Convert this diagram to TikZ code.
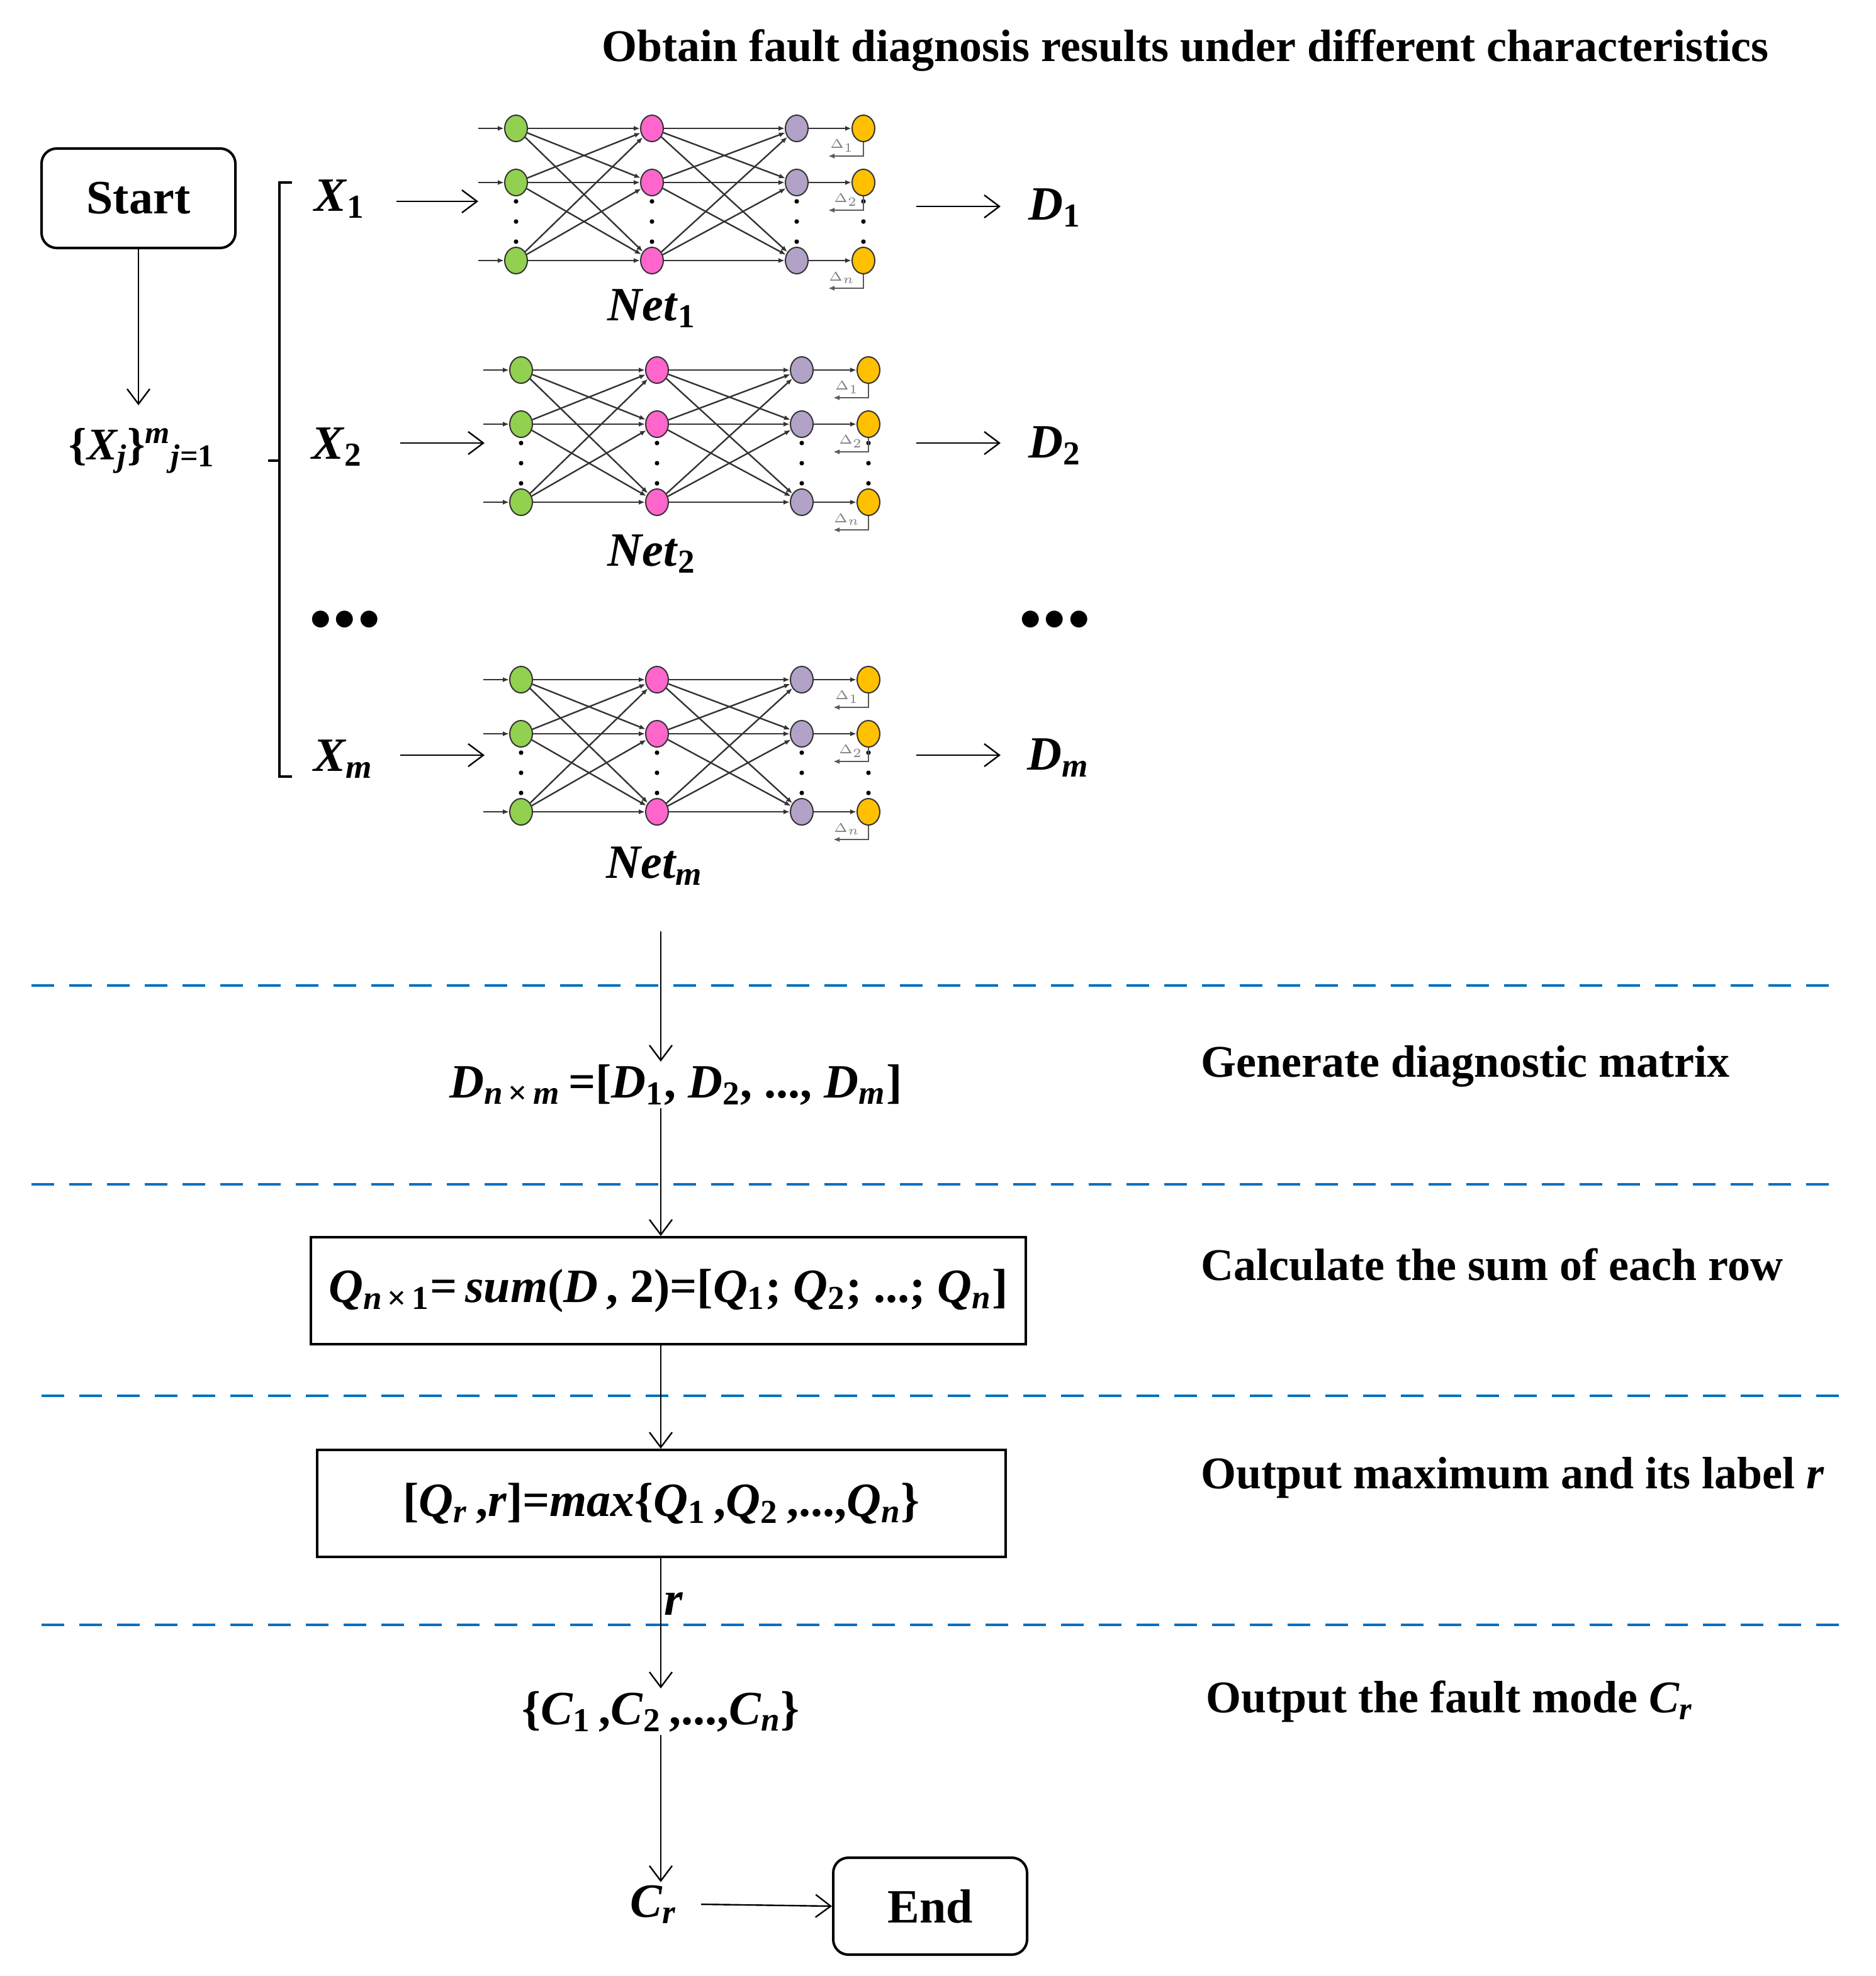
\documentclass[tikz,border=0pt]{standalone}
\usepackage{fontspec}
\setmainfont{Liberation Serif}
\usetikzlibrary{shapes.geometric,arrows.meta,calc}
\definecolor{ngreen}{RGB}{146,208,80}
\definecolor{npink}{RGB}{255,102,204}
\definecolor{npurp}{RGB}{179,162,199}
\definecolor{nyell}{RGB}{255,192,0}
\definecolor{dblue}{RGB}{0,112,192}
\newcommand\bi[1]{\textbf{\textit{#1}}}
\newcommand\lbl{\fontsize{18}{21}\selectfont\bfseries}
\newcommand\drawnet[3]{%
  \foreach \c/\dx/\col in {1/0/ngreen,2/108/npink,3/223/npurp,4/276/nyell}{
    \foreach \r/\dy in {1/0,2/43,3/105}{
      \node[neuron,fill=\col] (#1-\c-\r) at (#2+\dx,#3+\dy) {};
    }
    \foreach \k in {0,1,2} \fill (#2+\dx,#3+58+\k*16) circle (0.9pt);
  }
  \foreach \r in {1,2,3}{
    \coordinate (#1-in-\r) at ($(#1-1-\r)+(-30,0)$);
    \draw[syn] (#1-in-\r) -- (#1-1-\r);
    \draw[syn] (#1-3-\r) -- (#1-4-\r);
    \coordinate (#1-fb-\r) at ($(#1-4-\r)+(0,22)$);
    \coordinate (#1-fe-\r) at ($(#1-4-\r)+(-28,22)$);
    \draw[syn,gray!70!black] (#1-4-\r.south) -- (#1-fb-\r) -- (#1-fe-\r);
    \foreach \s in {1,2,3}{
      \draw[syn] (#1-1-\r) -- (#1-2-\s);
      \draw[syn] (#1-2-\r) -- (#1-3-\s);
    }
  }
  \node[delta] at ($(#1-4-1)+(-17,14)$) {$\Delta_1$};
  \node[delta] at ($(#1-4-2)+(-14,14)$) {$\Delta_2$};
  \node[delta] at ($(#1-4-3)+(-17,14)$) {$\Delta_n$};
}
\begin{document}
\begin{tikzpicture}[x=0.5pt,y=-0.5pt,
  neuron/.style={ellipse,draw=black!80,line width=0.5pt,minimum width=9pt,minimum height=10.5pt,inner sep=0pt},
  syn/.style={draw=black!80,line width=0.6pt,-{Latex[length=2.5pt,width=2pt]},shorten >=0pt},
  delta/.style={font=\fontsize{4}{4}\selectfont,text=gray,inner sep=0pt},
  arr/.style={-{Straight Barb[length=6pt,width=9pt]},line width=0.6pt},
  box/.style={draw,line width=1pt,inner sep=0pt},
  sepline/.style={dblue,line width=1pt,dash pattern=on 9pt off 6pt},
  txt/.style={font=\lbl,inner sep=1pt},
  big/.style={font=\lbl\fontsize{19}{22}\selectfont,inner sep=1pt}]
\useasboundingbox (0,0) rectangle (1490,1570);
\node[txt,anchor=west] (title) at (476,40) {Obtain fault diagnosis results under different characteristics};
\node[box,rounded corners=6pt,minimum width=77pt,minimum height=39.5pt,big] (start) at (110,157.5) {Start};
\node[txt] (xset) at (113,358) {\{\bi{X\textsubscript{j}}\}\textsuperscript{\bi{m}}\textsubscript{\bi{j}=1}};
\coordinate (xsetn) at (110,322);
\draw[arr] (start) -- (xsetn);
\draw[line width=0.8pt] (232,145) -- (222,145) -- (222,617) -- (232,617);
\draw[line width=0.8pt] (222,366) -- (213,366);
\drawnet{a}{410}{102}
\drawnet{b}{414}{294}
\drawnet{c}{414}{540}
\node[big] (x1) at (270,158) {\bi{X}\textsubscript{1}};
\node[big] (x2) at (268,355) {\bi{X}\textsubscript{2}};
\node[big] (xm) at (273,603) {\bi{X\textsubscript{m}}};
\node[big] (d1) at (838,165) {\bi{D}\textsubscript{1}};
\node[big] (d2) at (838,354) {\bi{D}\textsubscript{2}};
\node[big] (dm) at (841,602) {\bi{D\textsubscript{m}}};
\node[big] (n1) at (518,245) {\bi{Net}\textsubscript{1}};
\node[big] (n2) at (518,440) {\bi{Net}\textsubscript{2}};
\node[big] (nm) at (520,688) {\bi{Net\textsubscript{m}}};
\node[txt] (dl) at (274,493) {$\bullet\!\bullet\!\bullet$};
\node[txt] (dr) at (838,493) {$\bullet\!\bullet\!\bullet$};
\coordinate (a1) at (315,160); \coordinate (a1e) at (380,160);
\draw[arr] (a1) -- (a1e);
\coordinate (a2) at (318,352); \coordinate (a2e) at (385,352);
\draw[arr] (a2) -- (a2e);
\coordinate (a3) at (318,600); \coordinate (a3e) at (385,600);
\draw[arr] (a3) -- (a3e);
\coordinate (b1) at (728,164); \coordinate (b1e) at (795,164); \draw[arr] (b1) -- (b1e);
\coordinate (b2) at (728,352); \coordinate (b2e) at (795,352); \draw[arr] (b2) -- (b2e);
\coordinate (b3) at (728,600); \coordinate (b3e) at (795,600); \draw[arr] (b3) -- (b3e);
\draw[sepline] (25,783) -- (1455,783);
\draw[sepline] (25,941) -- (1455,941);
\draw[sepline] (33,1109) -- (1463,1109);
\draw[sepline] (33,1291) -- (1463,1291);
\node[big] (dmat) at (537,862) {\bi{D\textsubscript{n\,\textup{×}\,m}}\,=[\bi{D}\textsubscript{1}, \bi{D}\textsubscript{2}, ..., \bi{D\textsubscript{m}}]};
\coordinate (nb) at (525,740);
\draw[arr] (nb) -- (dmat.north -| nb);
\node[box,minimum width=284pt,minimum height=42.5pt,big] (qbox) at (531,1025.5) {\bi{Q\textsubscript{n\,\textup{×}\,\textup{1}}}=\,\bi{sum}(\bi{D}\,, 2)=[\bi{Q}\textsubscript{1}; \bi{Q}\textsubscript{2}; ...; \bi{Q\textsubscript{n}}]};
\draw[arr] (dmat.south -| nb) -- (qbox.north -| nb);
\node[box,minimum width=273.5pt,minimum height=42.5pt,big] (mbox) at (525.5,1194.5) {[\bi{Q\textsubscript{r}}\,,\bi{r}]=\bi{max}\{\bi{Q}\textsubscript{1}\,,\bi{Q}\textsubscript{2}\,,...,\bi{Q\textsubscript{n}}\}};
\draw[arr] (qbox.south -| nb) -- (mbox.north -| nb);
\node[big] (cset) at (525,1360) {\{\bi{C}\textsubscript{1}\,,\bi{C}\textsubscript{2}\,,...,\bi{C\textsubscript{n}}\}};
\draw[arr] (mbox.south -| nb) -- node[right,big,pos=0.35]{\bi{r}} (cset.north -| nb);
\node[big] (cr) at (519,1513) {\bi{C\textsubscript{r}}};
\draw[arr] (cset.south -| nb) -- (cr.north -| nb);
\node[box,rounded corners=6pt,minimum width=77pt,minimum height=38.5pt,big] (end) at (739,1514.5) {End};
\coordinate (crx) at (557,1513);
\draw[arr] (crx) -- (end.west);
\node[txt,anchor=west] (t1) at (952,847) {Generate diagnostic matrix};
\node[txt,anchor=west] (t2) at (952,1005) {Calculate the sum of each row};
\node[txt,anchor=west] (t3) at (952,1174) {Output maximum and its label \bi{r}};
\node[txt,anchor=west] (t4) at (956,1352) {Output the fault mode \bi{C\textsubscript{r}}};
\end{tikzpicture}
\end{document}
